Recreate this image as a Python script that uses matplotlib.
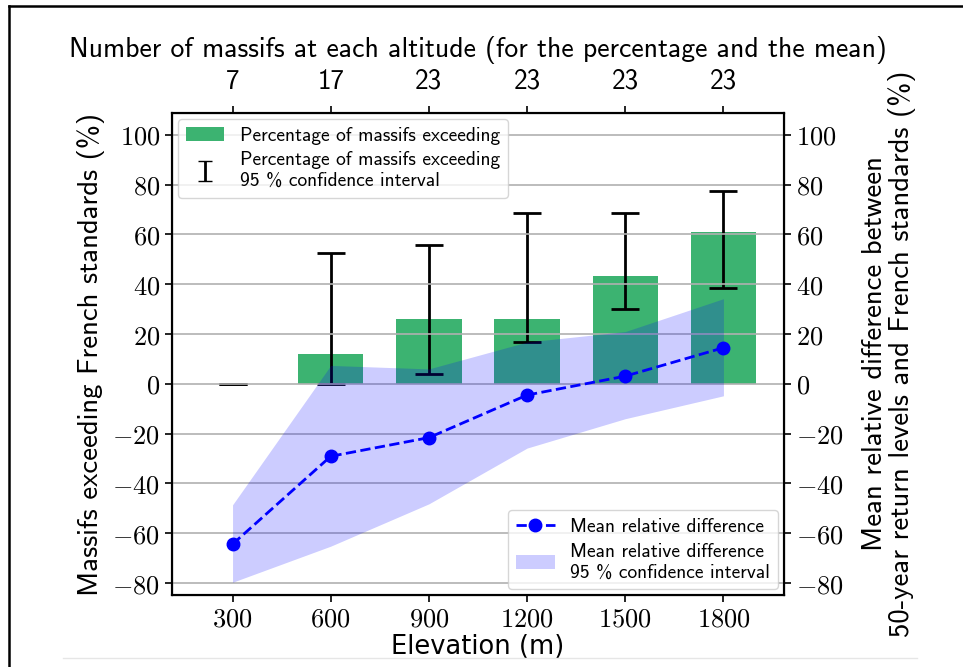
import matplotlib
matplotlib.use("Agg")
import matplotlib.pyplot as plt
from matplotlib.lines import Line2D
from matplotlib.patches import Patch
from matplotlib.container import ErrorbarContainer
from matplotlib.collections import LineCollection
import numpy as np

plt.rcParams['mathtext.fontset'] = 'cm'

# Elevations and counts of massifs
elevations = [300, 600, 900, 1200, 1500, 1800]
n_massifs = [7, 17, 23, 23, 23, 23]

# Percentage of massifs exceeding French standards and its 95 % CI
pct_exceeding = [0.0, 11.8, 26.1, 26.1, 43.5, 60.9]
pct_ci_low = [0.0, 0.0, 3.9, 16.8, 30.0, 38.4]
pct_ci_high = [0.0, 52.4, 55.9, 68.8, 68.8, 77.3]

# Mean relative difference and its 95 % CI
mean_rel_diff = [-64.4, -29.1, -21.6, -4.5, 3.1, 14.5]
mean_ci_low = [-79.7, -65.2, -48.2, -25.8, -14.0, -4.8]
mean_ci_high = [-48.6, 7.4, 6.0, 16.8, 21.0, 34.2]

y_ticks = [-80, -60, -40, -20, 0, 20, 40, 60, 80, 100]

SANS = 'cmss10'
TICK_FS = 19
LABEL_FS = 20.7
LEG_FS = 14

fig = plt.figure(figsize=(9.63, 6.67), dpi=100)
ax1 = fig.add_axes([0.1786, 0.108, 0.8141 - 0.1786, 0.8306 - 0.108])
ax2 = ax1.twinx()

x = np.array(elevations)
pct = np.array(pct_exceeding)
yerr = np.vstack([pct - np.array(pct_ci_low), np.array(pct_ci_high) - pct])

ax1.bar(x, pct, width=200, color='mediumseagreen', zorder=1)
ax1.errorbar(x, pct, yerr=yerr, fmt='none', ecolor='black', elinewidth=2,
             capsize=10, capthick=2, zorder=3)

ax2.fill_between(x, mean_ci_low, mean_ci_high, color='blue', alpha=0.2,
                 linewidth=0, zorder=1)
ax2.plot(x, mean_rel_diff, linestyle='--', color='blue', marker='o',
         markersize=9, linewidth=2, zorder=3)
ax2.grid(True, axis='y', color='#b0b0b0', linewidth=1.2)
ax2.set_axisbelow(True)

ylim = (-84.8, 108.8)
for ax in (ax1, ax2):
    ax.set_ylim(*ylim)
    ax.set_yticks(y_ticks, labels=[f'${t}$' for t in y_ticks])
    ax.tick_params(axis='y', labelsize=TICK_FS, length=5, width=1.2)
    for sp in ax.spines.values():
        sp.set_linewidth(1.5)

ax1.set_xlim(115, 1985)
ax1.set_xticks(elevations, labels=[f'${e}$' for e in elevations])
ax1.tick_params(axis='x', labelsize=TICK_FS, length=5, width=1.2)
ax1.set_xlabel('Elevation (m)', fontsize=18.5, family='DejaVu Sans', labelpad=1)

ax1.set_ylabel('Massifs exceeding French standards (%)', fontsize=LABEL_FS,
               family=SANS, labelpad=5)
ax2.set_ylabel('Mean relative difference between\n50-year return levels and French standards (%)',
               fontsize=LABEL_FS, family=SANS, labelpad=13, linespacing=1.08)

# Top axis: number of massifs at each elevation
ax3 = ax1.twiny()
ax3.set_xlim(ax1.get_xlim())
ax3.set_xticks(elevations, labels=[str(n) for n in n_massifs])
ax3.tick_params(axis='x', labelsize=19.5, length=5, width=1.2, pad=9)
for lab in ax3.get_xticklabels():
    lab.set_family(SANS)
ax3.set_xlabel('Number of massifs at each altitude (for the percentage and the mean)',
               fontsize=20, family=SANS, labelpad=8)

# Legends
bar_handle = Patch(facecolor='mediumseagreen')
err_caps = Line2D([], [], color='black', marker='_', markersize=10, linestyle='none')
err_lc = LineCollection([[(0, 0), (0, 1)]], colors='black', linewidths=2)
err_cont = ErrorbarContainer((Line2D([], [], linestyle='none'), (err_caps, err_caps), (err_lc,)),
                             has_xerr=False, has_yerr=True)

leg1 = ax2.legend([bar_handle, err_cont],
                  ['Percentage of massifs exceeding',
                   'Percentage of massifs exceeding\n95 % confidence interval'],
                  loc='upper left', prop={'family': SANS, 'size': LEG_FS},
                  borderaxespad=0.3, handlelength=2.0, labelspacing=0.35)
ax2.add_artist(leg1)

line_handle = Line2D([], [], linestyle='--', color='blue', marker='o',
                     markersize=9, linewidth=2)
fill_handle = Patch(facecolor='blue', alpha=0.2)
ax2.legend([line_handle, fill_handle],
           ['Mean relative difference',
            'Mean relative difference\n95 % confidence interval'],
           loc='lower right', prop={'family': SANS, 'size': LEG_FS},
           borderaxespad=0.3, handlelength=2.0, labelspacing=0.35)

# Page frame lines
fig.add_artist(Line2D([9 / 963, 9 / 963], [0, 1 - 6 / 667], transform=fig.transFigure,
                      color='black', linewidth=1.8))
fig.add_artist(Line2D([9 / 963, 1], [1 - 6 / 667, 1 - 6 / 667], transform=fig.transFigure,
                      color='black', linewidth=1.8))
fig.add_artist(Line2D([63 / 963, 917 / 963], [1 - 658 / 667, 1 - 658 / 667],
                      transform=fig.transFigure, color='#e6e6e6', linewidth=1))

fig.savefig('out.png', dpi=100)
